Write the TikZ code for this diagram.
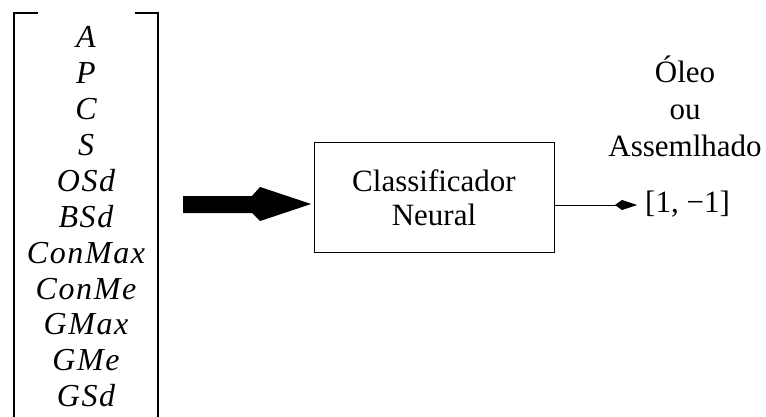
\documentclass[tikz,border=0pt]{standalone}
\usepackage{fontspec}
\setmainfont{Liberation Serif}
\newfontfamily\featfont[LetterSpace=5]{Liberation Serif Italic}
\usetikzlibrary{arrows.meta}
\begin{document}
\begin{tikzpicture}[x=1pt,y=-1pt,
  txt/.style={font=\fontsize{31}{36}\selectfont, inner sep=0pt},
  feat/.style={inner sep=0pt, anchor=base, font=\featfont\fontsize{32}{36}\selectfont},
  bracketline/.style={line width=1.3pt},
  clbox/.style={draw, line width=1pt, minimum width=240pt, minimum height=109pt,
    align=center, inner sep=0pt, font=\fontsize{31}{34}\selectfont},
  outline/.style={line width=1pt, -{Kite[length=22pt,width=10pt,inset=7pt]}}]
\useasboundingbox (0,0) rectangle (766,417);

% input vector bracket
\draw[bracketline] (38,13) -- (14,13) -- (14,420);
\draw[bracketline] (135,13) -- (158,13) -- (158,420);

% feature names
\foreach \name [count=\i from 0] in {A,P,C,S,OSd,BSd,ConMax,ConMe,GMax,GMe,GSd}
  \node[feat] (f\i) at (86,47.7+35.9*\i) {\name};

% thick input arrow
\fill (183,196) -- (252,196) -- (260,187) -- (311,204) -- (260,221) -- (252,213) -- (183,213) -- cycle;

% classifier
\node[clbox] (cls) at (434,197.5) {Classificador\\Neural};

% output
\coordinate (tip) at (637,205);
\node[txt, anchor=west] (range) at (645,204) {[1, −1]};
\draw[outline] (cls.east |- tip) -- (tip);
\node[txt, anchor=base] (o1) at (685,83) {Óleo};
\node[txt, anchor=base] (o2) at (685,120) {ou};
\node[txt, anchor=base] (o3) at (685,157) {Assemlhado};
\end{tikzpicture}
\end{document}
